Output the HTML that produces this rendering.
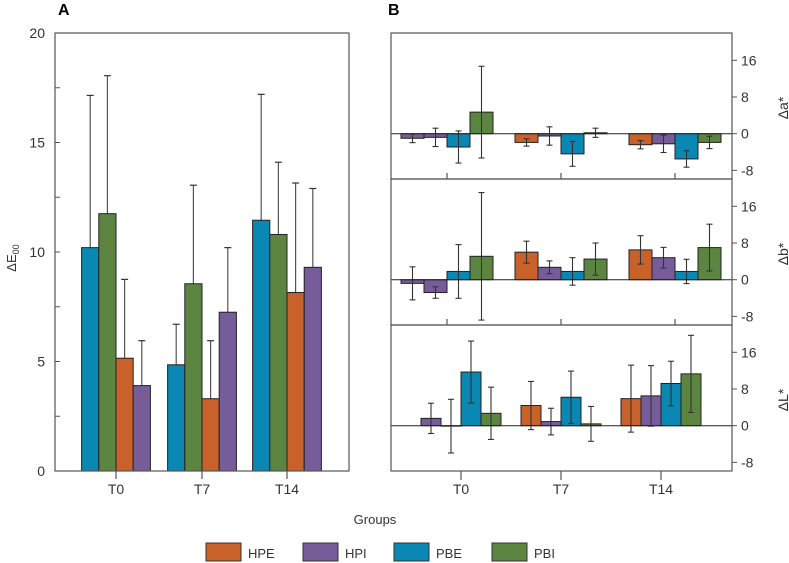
<!DOCTYPE html>
<html><head><meta charset="utf-8"><style>
body{margin:0;background:#fff;}
svg{display:block;font-family:"Liberation Sans",sans-serif;}
</style></head><body>
<svg id="chart" width="789" height="563" viewBox="0 0 789 563"></svg>
<script>
const groups=["T0","T7","T14"];
const seriesNames=["HPE","HPI","PBE","PBI"];
const aOrder=["PBE","PBI","HPE","HPI"];
const dE_PBE=[10.2,4.85,11.45], dE_PBE_err=[6.95,1.85,5.75];
const dE_PBI=[11.75,8.55,10.8], dE_PBI_err=[6.3,4.5,3.3];
const dE_HPE=[5.15,3.3,8.15], dE_HPE_err=[3.6,2.65,5.0];
const dE_HPI=[3.9,7.25,9.3], dE_HPI_err=[2.05,2.95,3.6];
const aTicks=[0,5,10,15,20];
const da_HPE=[-1.0,-1.9,-2.4], da_HPE_err=[0.95,0.8,0.9];
const da_HPI=[-0.8,-0.5,-2.2], da_HPI_err=[2.0,2.0,1.9];
const da_PBE=[-2.9,-4.4,-5.5], da_PBE_err=[3.5,2.7,1.8];
const da_PBI=[4.7,0.2,-1.9], da_PBI_err=[10.0,1.0,1.35];
const db_HPE=[-0.8,6.0,6.5], db_HPE_err=[3.6,2.4,3.1];
const db_HPI=[-2.8,2.7,4.8], db_HPI_err=[1.25,1.4,2.25];
const db_PBE=[1.8,1.8,1.8], db_PBE_err=[5.85,3.0,2.65];
const db_PBI=[5.1,4.5,7.0], db_PBI_err=[13.9,3.5,5.1];
const dL_HPE=[1.6,4.4,5.9], dL_HPE_err=[3.3,5.25,7.3];
const dL_HPI=[-0.1,0.9,6.5], dL_HPI_err=[5.85,2.9,6.6];
const dL_PBE=[11.7,6.2,9.2], dL_PBE_err=[6.75,5.7,4.85];
const dL_PBI=[2.7,0.4,11.3], dL_PBI_err=[5.7,3.8,8.4];
const bTicks=[-8,0,8,16];

const colors={HPE:"#c8612a",HPI:"#775c9a",PBE:"#0a87b2",PBI:"#5b8540"};
const svg=document.getElementById('chart');
const NS="http://www.w3.org/2000/svg";
function mk(tag,attrs,parent){const e=document.createElementNS(NS,tag);for(const k in attrs)e.setAttribute(k,attrs[k]);(parent||svg).appendChild(e);return e;}
function txt(s,attrs,parent){const e=mk('text',attrs,parent);e.textContent=s;return e;}

const A={x0:55,x1:349,y0:33,y1:471,max:20};
const ay=v=>A.y1-(v/A.max)*(A.y1-A.y0);
const aCenters=[116,202,287], aBW=17.2;
const aData={PBE:[dE_PBE,dE_PBE_err],PBI:[dE_PBI,dE_PBI_err],HPE:[dE_HPE,dE_HPE_err],HPI:[dE_HPI,dE_HPI_err]};
const gA=mk('g',{});


txt("A",{x:58,y:15,'font-size':16,'font-weight':'bold'},gA);
groups.forEach((g,gi)=>{
  aOrder.forEach((s,si)=>{
    const v=aData[s][0][gi],e=aData[s][1][gi];
    const x=aCenters[gi]+(si-2)*aBW;
    const cx=x+aBW/2;
    const eb=mk('line',{x1:cx,x2:cx,y1:ay(v),y2:ay(v+e),stroke:'#555','stroke-width':1.2},gA);
    
    
    mk('line',{x1:cx-3.5,x2:cx+3.5,y1:ay(v+e),y2:ay(v+e),stroke:'#333','stroke-width':1.2},gA);
    const r=mk('rect',{x:x,y:ay(v),width:aBW,height:ay(0)-ay(v),fill:colors[s],stroke:'#222','stroke-width':1},gA);
    
    
  });
  mk('line',{x1:aCenters[gi],x2:aCenters[gi],y1:A.y1,y2:A.y1+8,stroke:'#333'},gA);
  const t=txt(g,{x:aCenters[gi],y:494,'font-size':14,'text-anchor':'middle',fill:'#333'},gA);
  
  
});
mk('rect',{x:A.x0,y:A.y0,width:A.x1-A.x0,height:A.y1-A.y0,fill:'none',stroke:'#555','stroke-width':1.2},gA);
for(let v=0;v<=20;v+=2.5){mk('line',{x1:A.x0,x2:A.x0+5,y1:ay(v),y2:ay(v),stroke:'#555'},gA);}
aTicks.forEach(v=>{const t=txt(String(v),{x:45,y:ay(v)+5,'font-size':14,'text-anchor':'end',fill:'#333'},gA);
  
  });
const yt=txt("",{transform:'translate(16,258) rotate(-90)','font-size':13,'text-anchor':'middle',fill:'#333'},gA);


yt.innerHTML='ΔE<tspan font-size="9" dy="3">00</tspan>';

txt("B",{x:388,y:15,'font-size':16,'font-weight':'bold'});
const BX0=391,BX1=732;
const panels=[
 {name:'delta-a',label:'Δa*',top:33,centers:[447,561,675],bw:23,tickUp:true,
  data:{HPE:[da_HPE,da_HPE_err],HPI:[da_HPI,da_HPI_err],PBE:[da_PBE,da_PBE_err],PBI:[da_PBI,da_PBI_err]}},
 {name:'delta-b',label:'Δb*',top:179,centers:[447,561,675],bw:23,tickUp:true,
  data:{HPE:[db_HPE,db_HPE_err],HPI:[db_HPI,db_HPI_err],PBE:[db_PBE,db_PBE_err],PBI:[db_PBI,db_PBI_err]}},
 {name:'delta-l',label:'ΔL*',top:325,centers:[461,561,661],bw:20,tickUp:false,
  data:{HPE:[dL_HPE,dL_HPE_err],HPI:[dL_HPI,dL_HPI_err],PBE:[dL_PBE,dL_PBE_err],PBI:[dL_PBI,dL_PBI_err]}}
];
const PX=36.7/8;
panels.forEach((p,pi)=>{
  const g=mk('g',{});
  
  
  const zero=p.top+100.7, by=v=>zero-v*PX, bot=p.top+146;
  groups.forEach((gr,gi)=>{
    seriesNames.forEach((s,si)=>{
      const v=p.data[s][0][gi],e=p.data[s][1][gi];
      const x=p.centers[gi]+(si-2)*p.bw, cx=x+p.bw/2;
      const col=(gi===0&&s==='HPE')?colors.HPI:colors[s];
      const r=mk('rect',{x:x,y:Math.min(by(v),zero),width:p.bw,height:Math.abs(by(v)-zero),fill:col,stroke:'#222','stroke-width':1},g);
      
      
      const eb=mk('line',{x1:cx,x2:cx,y1:by(v+e),y2:by(v-e),stroke:'#333','stroke-width':1.1},g);
      
      
      mk('line',{x1:cx-3,x2:cx+3,y1:by(v+e),y2:by(v+e),stroke:'#333','stroke-width':1.1},g);
      mk('line',{x1:cx-3,x2:cx+3,y1:by(v-e),y2:by(v-e),stroke:'#333','stroke-width':1.1},g);
    });
    if(p.tickUp) mk('line',{x1:p.centers[gi],x2:p.centers[gi],y1:bot-6,y2:bot,stroke:'#333'},g);
    else {
      mk('line',{x1:p.centers[gi],x2:p.centers[gi],y1:bot,y2:bot+9,stroke:'#333'},g);
      const t=txt(gr,{x:p.centers[gi],y:494,'font-size':14,'text-anchor':'middle',fill:'#333'},g);
      
      
    }
  });
  mk('line',{x1:BX0,x2:BX1,y1:zero,y2:zero,stroke:'#222','stroke-width':1},g);
  mk('rect',{x:BX0,y:p.top,width:BX1-BX0,height:146,fill:'none',stroke:'#555','stroke-width':1.2},g);
  bTicks.forEach(v=>{
    mk('line',{x1:BX1,x2:BX1+5,y1:by(v),y2:by(v),stroke:'#555'},g);
    const t=txt(String(v),{x:741,y:by(v)+5,'font-size':14,fill:'#333'},g);
    
    
  });
  const lt=txt(p.label,{transform:'translate(788,'+(p.top+75)+') rotate(-90)','font-size':14,'text-anchor':'middle',fill:'#333'},g);
  
  
});

const xt=txt("Groups",{x:375,y:524,'font-size':13,'text-anchor':'middle',fill:'#333'});


const legX=[206,303,394,492];
seriesNames.forEach((s,i)=>{
  const g=mk('g',{});
  
  
  mk('rect',{x:legX[i],y:543,width:35,height:18,fill:colors[s],stroke:'#333','stroke-width':1},g);
  txt(s,{x:legX[i]+42,y:558,'font-size':13,fill:'#333'},g);
});
</script>
</body></html>
